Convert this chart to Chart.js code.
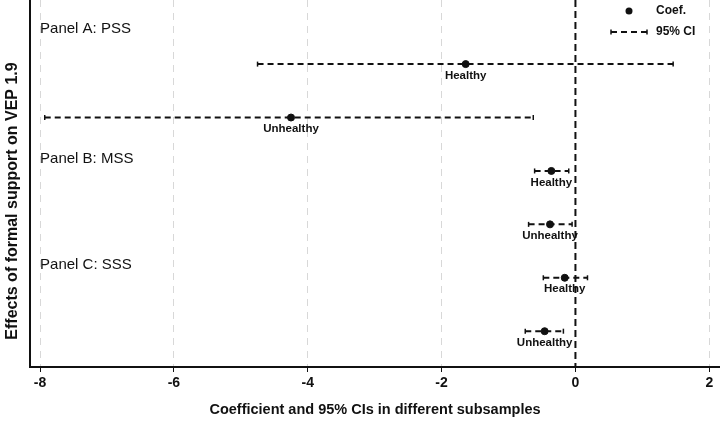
<!DOCTYPE html>
<html>
<head>
<meta charset="utf-8">
<script src="https://cdn.jsdelivr.net/npm/chart.js@4"></script>
<style>
  html, body { margin: 0; padding: 0; background: #fff; }
  #wrap { width: 720px; height: 422px; }
</style>
</head>
<body>
<div id="wrap"><canvas id="coefChart" width="720" height="422"></canvas></div>
<script>
// Rows, top to bottom
const rowLabels = ['Healthy', 'Unhealthy', 'Healthy', 'Unhealthy', 'Healthy', 'Unhealthy'];
const rowPos = [1.2, 2.2, 3.2, 4.2, 5.2, 6.2];
const coef = [-1.64, -4.25, -0.36, -0.38, -0.16, -0.46];
const ciLow = [-4.75, -7.93, -0.61, -0.70, -0.48, -0.75];
const ciHigh = [1.46, -0.63, -0.10, -0.05, 0.18, -0.18];

const panelLabels = ['Panel A: PSS', 'Panel B: MSS', 'Panel C: SSS'];
const panelPos = [0.54, 2.98, 4.95];

const xTicks = [-8, -6, -4, -2, 0, 2];
const yTitle = 'Effects of formal support on VEP 1.9';
const FONT = "'Liberation Sans', Arial, sans-serif";

// CI lines, one dataset each
const ciSets = coef.map((c, i) => ({
    type: 'line',
    data: [{ x: ciLow[i], y: rowPos[i] }, { x: ciHigh[i], y: rowPos[i] }],
    borderColor: '#111',
    borderWidth: 2,
    borderDash: [6, 4],
    pointStyle: 'line',
    rotation: 90,
    pointRadius: 2.5,
    pointBorderWidth: 1.5,
    pointBorderColor: '#111',
    showLine: true,
    fill: false
}));

const labelPlugin = {
    id: 'labels',
    afterDatasetsDraw(chart) {
        const ctx = chart.ctx;
        const xs = chart.scales.x, ys = chart.scales.y;
        const area = chart.chartArea;
        ctx.save();
        ctx.fillStyle = '#111';

        // point labels
        ctx.font = 'bold 11.5px ' + FONT;
        ctx.textAlign = 'center';
        ctx.textBaseline = 'middle';
        rowLabels.forEach((t, i) => {
            ctx.fillText(t, xs.getPixelForValue(coef[i]), ys.getPixelForValue(rowPos[i]) + 11.5);
        });

        // panel labels
        ctx.font = '15px ' + FONT;
        ctx.textAlign = 'left';
        panelLabels.forEach((t, i) => {
            ctx.fillText(t, xs.getPixelForValue(-8), ys.getPixelForValue(panelPos[i]));
        });

        // legend
        const lx = area.right - 109;
        ctx.beginPath();
        ctx.arc(lx + 18, 11, 3.5, 0, Math.PI * 2);
        ctx.fill();
        ctx.font = 'bold 12px ' + FONT;
        ctx.fillText('Coef.', lx + 45, 11);
        ctx.strokeStyle = '#111';
        ctx.lineWidth = 2;
        ctx.setLineDash([6, 4]);
        ctx.beginPath();
        ctx.moveTo(lx, 32);
        ctx.lineTo(lx + 36, 32);
        ctx.stroke();
        ctx.setLineDash([]);
        ctx.lineWidth = 1.5;
        ctx.beginPath();
        ctx.moveTo(lx, 29.5); ctx.lineTo(lx, 34.5);
        ctx.moveTo(lx + 36, 29.5); ctx.lineTo(lx + 36, 34.5);
        ctx.stroke();
        ctx.fillText('95% CI', lx + 45, 32);

        // y axis title (sits a bit below the middle in the original)
        ctx.translate(13, 201);
        ctx.rotate(-Math.PI / 2);
        ctx.textAlign = 'center';
        ctx.font = 'bold 16px ' + FONT;
        ctx.fillText(yTitle, 0, 0);
        ctx.restore();
    }
};

new Chart(document.getElementById('coefChart'), {
    type: 'scatter',
    data: {
        datasets: [
            {
                type: 'line',
                data: [{ x: 0, y: 0 }, { x: 0, y: 6.87 }],
                borderColor: '#111',
                borderWidth: 2,
                borderDash: [7, 4],
                pointRadius: 0,
                showLine: true
            },
            ...ciSets,
            {
                data: coef.map((c, i) => ({ x: c, y: rowPos[i] })),
                backgroundColor: '#111',
                borderColor: '#111',
                pointRadius: 3.5,
                pointHoverRadius: 3.5
            }
        ]
    },
    options: {
        responsive: false,
        animation: false,
        layout: { padding: 0, autoPadding: false },
        plugins: {
            legend: { display: false },
            tooltip: { enabled: false }
        },
        scales: {
            x: {
                type: 'linear',
                min: -8.15,
                max: 2.16,
                afterBuildTicks: s => { s.ticks = xTicks.map(v => ({ value: v })); },
                afterFit: s => { s.height = 55; },
                grid: {
                    color: c => (c.tick && c.tick.value === 0) ? 'rgba(0,0,0,0)' : '#d8d8d8',
                    lineWidth: 1,
                    tickColor: '#111',
                    tickLength: 5
                },
                border: { color: '#111', width: 2, dash: [7, 6] },
                ticks: {
                    color: '#111',
                    padding: 3,
                    font: { family: FONT, size: 14, weight: 'bold' }
                },
                title: {
                    display: true,
                    text: 'Coefficient and 95% CIs in different subsamples',
                    color: '#111',
                    padding: { top: 0, bottom: 3 },
                    font: { family: FONT, size: 14.5, weight: 'bold' }
                }
            },
            y: {
                type: 'linear',
                reverse: true,
                min: 0,
                max: 6.87,
                afterFit: s => { s.width = 30; },
                grid: { display: false },
                border: { color: '#111', width: 2 },
                ticks: { display: false }
            }
        }
    },
    plugins: [labelPlugin]
});
</script>
</body>
</html>
